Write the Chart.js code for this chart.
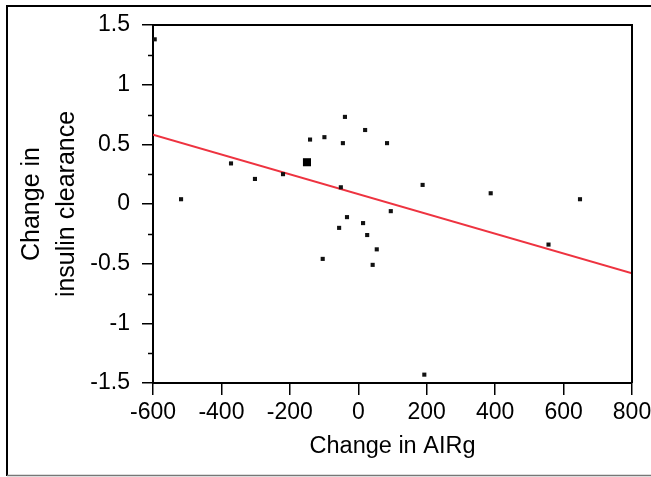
<!DOCTYPE html>
<html>
<head>
<meta charset="utf-8">
<script src="https://cdn.jsdelivr.net/npm/chart.js@4"></script>
<style>
  html, body { margin: 0; padding: 0; background: #fff; }
  canvas { display: block; }
</style>
</head>
<body>
<canvas id="chart" width="651" height="477"></canvas>
<script>
// Valores (mudança na AIRg vs mudança na depuração de insulina)
const airgChange = [-595, -518, -372, -302, -220, -141, -99, -39, -45, 20, 84, -51,
    188, 387, 648, 95, -33, -56, 14, 26, 54, -104, 42, 556, 193];
const clearanceChange = [1.38, 0.04, 0.34, 0.21, 0.25, 0.54, 0.56, 0.73, 0.51, 0.62, 0.51, 0.14,
    0.16, 0.09, 0.04, -0.06, -0.11, -0.2, -0.16, -0.26, -0.38, -0.46, -0.51, -0.34, -1.43];

// ponto maior (sobreposto)
const bigX = [-150];
const bigY = [0.35];

// reta de regressão
const fitX = [-600, 800];
const fitY = [0.58, -0.58];

const xTicks = [-600, -400, -200, 0, 200, 400, 600, 800];
const yMinorStep = 0.25;

const toPoints = (xs, ys) => xs.map((x, i) => ({ x: x, y: ys[i] }));

const isMajor = v => Math.abs(v * 2 - Math.round(v * 2)) < 1e-9;

// moldura externa, caixa do gráfico e marcas menores do eixo y
const framePlugin = {
    id: 'frame',
    afterDraw(chart) {
        const ctx = chart.ctx;
        const a = chart.chartArea;
        const y = chart.scales.y;
        ctx.save();
        ctx.strokeStyle = '#000';
        ctx.lineWidth = 2;
        ctx.beginPath();
        ctx.moveTo(a.left, a.top);
        ctx.lineTo(a.right, a.top);
        ctx.lineTo(a.right, a.bottom);
        ctx.stroke();

        ctx.beginPath();
        ctx.moveTo(7, 476);
        ctx.lineTo(7, 6);
        ctx.lineTo(chart.width, 6);
        ctx.stroke();

        ctx.strokeStyle = '#777';
        ctx.lineWidth = 1.5;
        ctx.beginPath();
        ctx.moveTo(7, 475.5);
        ctx.lineTo(chart.width, 475.5);
        ctx.stroke();

        ctx.strokeStyle = '#000';
        ctx.lineWidth = 1.5;
        y.ticks.forEach(t => {
            if (isMajor(t.value)) return;
            const py = Math.round(y.getPixelForValue(t.value)) + 0.5;
            ctx.beginPath();
            ctx.moveTo(a.left - 5, py);
            ctx.lineTo(a.left, py);
            ctx.stroke();
        });
        ctx.restore();
    }
};

const fontFamily = '"Liberation Sans", Arial, sans-serif';
const tickFont = { family: fontFamily, size: 23 };

new Chart(document.getElementById('chart').getContext('2d'), {
    type: 'scatter',
    data: {
        datasets: [{
            type: 'line',
            data: toPoints(fitX, fitY),
            borderColor: '#ee3340',
            borderWidth: 2,
            pointRadius: 0,
            fill: false,
            order: 2
        }, {
            data: toPoints(airgChange, clearanceChange),
            pointStyle: 'rect',
            pointRadius: 2.9,
            pointBackgroundColor: '#111',
            pointBorderWidth: 0,
            order: 1
        }, {
            data: toPoints(bigX, bigY),
            pointStyle: 'rect',
            pointRadius: 5.7,
            pointBackgroundColor: '#000',
            pointBorderWidth: 0,
            order: 1
        }]
    },
    options: {
        responsive: false,
        animation: false,
        devicePixelRatio: 1,
        layout: { padding: { left: 8, top: 25, right: 19, bottom: 4 } },
        plugins: { legend: { display: false }, tooltip: { enabled: false } },
        scales: {
            x: {
                type: 'linear',
                min: -600,
                max: 800,
                afterBuildTicks: s => { s.ticks = xTicks.map(v => ({ value: v })); },
                afterFit: s => { s.height = 90; s.paddingLeft = 0; s.paddingRight = 0; },
                border: { display: true, color: '#000', width: 2 },
                grid: { drawOnChartArea: false, drawTicks: true, tickLength: 12, color: '#000', lineWidth: 1.5 },
                ticks: { color: '#000', font: tickFont, padding: 4, maxRotation: 0, autoSkip: false },
                title: {
                    display: true,
                    text: 'Change in AIRg',
                    color: '#000',
                    font: { family: fontFamily, size: 23.5 },
                    padding: { top: 0, bottom: 12 }
                }
            },
            y: {
                type: 'linear',
                min: -1.5,
                max: 1.5,
                afterFit: s => { s.width = 145; s.paddingTop = 0; s.paddingBottom = 0; },
                border: { display: true, color: '#000', width: 2 },
                grid: {
                    drawOnChartArea: false,
                    drawTicks: true,
                    tickLength: 11,
                    color: '#000',
                    lineWidth: 1.5,
                    tickColor: c => isMajor(c.tick.value) ? '#000' : 'rgba(0,0,0,0)'
                },
                ticks: {
                    stepSize: yMinorStep,
                    color: '#000',
                    font: tickFont,
                    padding: 12,
                    autoSkip: false,
                    callback: v => isMajor(v) ? String(+v.toFixed(2)) : ''
                },
                title: {
                    display: true,
                    text: ['Change in', 'insulin clearance'],
                    color: '#000',
                    font: { family: fontFamily, size: 25, lineHeight: 1.4 },
                    padding: { top: 7, bottom: 0 }
                }
            }
        }
    },
    plugins: [framePlugin]
});
</script>
</body>
</html>
